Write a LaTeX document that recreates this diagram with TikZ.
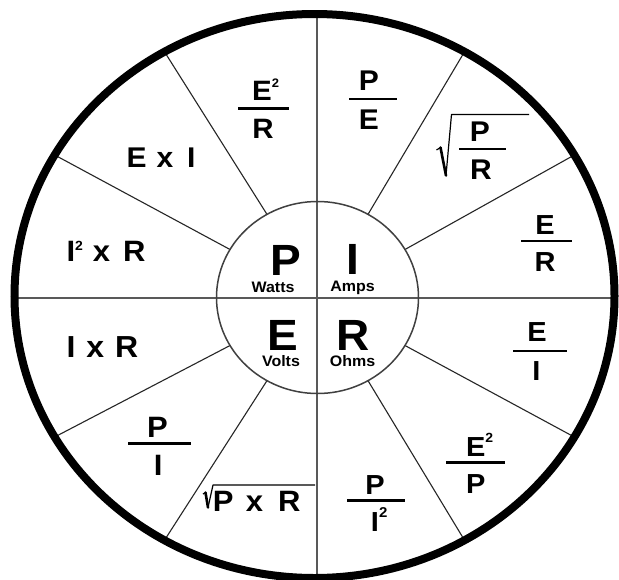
\documentclass[tikz,border=0pt]{standalone}
\usepackage{fontspec}
\setmainfont{Liberation Sans}
\usetikzlibrary{calc}
\newcommand\fsz[1]{\fontsize{#1}{#1}\selectfont\bfseries}
\newcommand\sq[2]{\rlap{\raisebox{#2pt}{\fsz{#1}2}}}
\begin{document}
\begin{tikzpicture}[x=1pt,y=-1pt,
  txt/.style={inner sep=0pt, anchor=base, yscale=0.95},
  txtw/.style={inner sep=0pt, anchor=base west, yscale=0.95},
  fracbar/.style={line width=2.5pt, black},
  spoke/.style={line width=1.1pt, black!85},
  crossline/.style={line width=2pt, black!65},
  thinrad/.style={line width=1.2pt, black, line join=round},
  thickrad/.style={line width=2.6pt, black, line cap=round}]
\useasboundingbox (0,0) rectangle (619,579);
\fill[white] (0,0) rectangle (619,579);
\coordinate (ci) at (317.5,297.5);
\coordinate (co) at (314.5,296);
\coordinate (top) at (317,12);
\coordinate (bot) at (317,579);
\coordinate (lft) at (14,298);
\coordinate (rgt) at (616,298);
% spokes
\foreach \a in {30,60,120,150,210,240,300,330}
  \draw[spoke] ($(ci)+(\a:101 and 96)$) -- ($(co)+(\a:300 and 282)$);
\draw[crossline] (top) -- (bot);
\draw[crossline] (lft) -- (rgt);
\draw[line width=1.5pt, black!75] (ci) ellipse [x radius=101, y radius=96];
\draw[line width=8pt] (co) ellipse [x radius=300, y radius=282];
% centre letters
\node[txt,font={\fsz{46}}] (P) at (286,275) {P};
\node[txt,font={\fsz{46}}] (I) at (352.5,274) {I};
\node[txt,font={\fsz{46}}] (E) at (282.5,350) {E};
\node[txt,font={\fsz{46}}] (R) at (353.5,350) {R};
\node[txt,font={\fsz{16}}] (watts) at (273,292) {Watts};
\node[txt,font={\fsz{16}}] (amps) at (352.5,291.5) {Amps};
\node[txt,font={\fsz{16}}] (volts) at (281,366.7) {Volts};
\node[txt,font={\fsz{16}}] (ohms) at (352.5,366.7) {Ohms};
% E^2/R
\node[txt,font={\fsz{29.5}}] (n1) at (262,100) {E\sq{13}{13}};
\draw[fracbar] (238.3,108.3) -- (289.3,108.3);
\node[txt,font={\fsz{29.5}}] (d1) at (263,138.3) {R};
% P/E
\node[txt,font={\fsz{30}}] (n2) at (369,90.5) {P};
\draw[fracbar] (349.4,99) -- (396.8,99);
\node[txt,font={\fsz{30}}] (d2) at (369,129.2) {E};
% sqrt(P/R)
\draw[thinrad] (436.5,150) -- (440.5,147.5);
\draw[thickrad] (440.5,147.5) -- (446,175.5);
\draw[thinrad] (446,175.5) -- (451.5,114.5) -- (529,114.5);
\node[txt,font={\fsz{30}}] (n3) at (480,141.7) {P};
\draw[fracbar] (459.3,149) -- (506,149);
\node[txt,font={\fsz{30}}] (d3) at (481,179) {R};
% E/R
\node[txt,font={\fsz{29}}] (n4) at (545,234.5) {E};
\draw[fracbar] (521,241) -- (572,241);
\node[txt,font={\fsz{29}}] (d4) at (545,271.4) {R};
% E/I
\node[txt,font={\fsz{29}}] (n5) at (537,341.6) {E};
\draw[fracbar] (513,350.8) -- (567,350.8);
\node[txt,font={\fsz{29}}] (d5) at (536.5,380.4) {I};
% E^2/P
\node[txt,font={\fsz{29}}] (n6) at (475.8,456) {E\sq{14}{14}};
\draw[fracbar] (446,462.7) -- (505,462.7);
\node[txt,font={\fsz{29}}] (d6) at (475.8,493) {P};
% P/I^2
\node[txt,font={\fsz{29}}] (n7) at (375,494.8) {P};
\draw[fracbar] (347.4,500.4) -- (404.7,500.4);
\node[txt,font={\fsz{29}}] (d7) at (375,531.8) {I\sq{15}{15.5}};
% sqrt(P x R)
\draw[thinrad] (203,494) -- (205.5,492.5);
\draw[thickrad] (205.5,492.5) -- (208,507.5);
\draw[thinrad] (208,507.5) -- (213,485) -- (315,485);
\node[txtw,font={\fsz{31}}] (n8) at (212.6,511.7) {P\hspace{12.5pt}x\hspace{15pt}R};
% P/I
\node[txt,font={\fsz{31}}] (n9) at (157.5,437.3) {P};
\draw[fracbar] (128.3,443.3) -- (191,443.3);
\node[txt,font={\fsz{31}}] (d9) at (158.3,475) {I};
% I x R
\node[txtw,font={\fsz{32}}] (n10) at (66.3,357.3) {I\hspace{11pt}x\hspace{11pt}R};
% I^2 x R
\node[txtw,font={\fsz{31}}] (n11) at (66.3,261.7) {I\raisebox{12.3pt}{\fsz{14}2}\hspace{10pt}x\hspace{13pt}R};
% E x I
\node[txtw,font={\fsz{30}}] (n12) at (126.3,167.3) {E\hspace{10pt}x\hspace{14pt}I};
\end{tikzpicture}
\end{document}
